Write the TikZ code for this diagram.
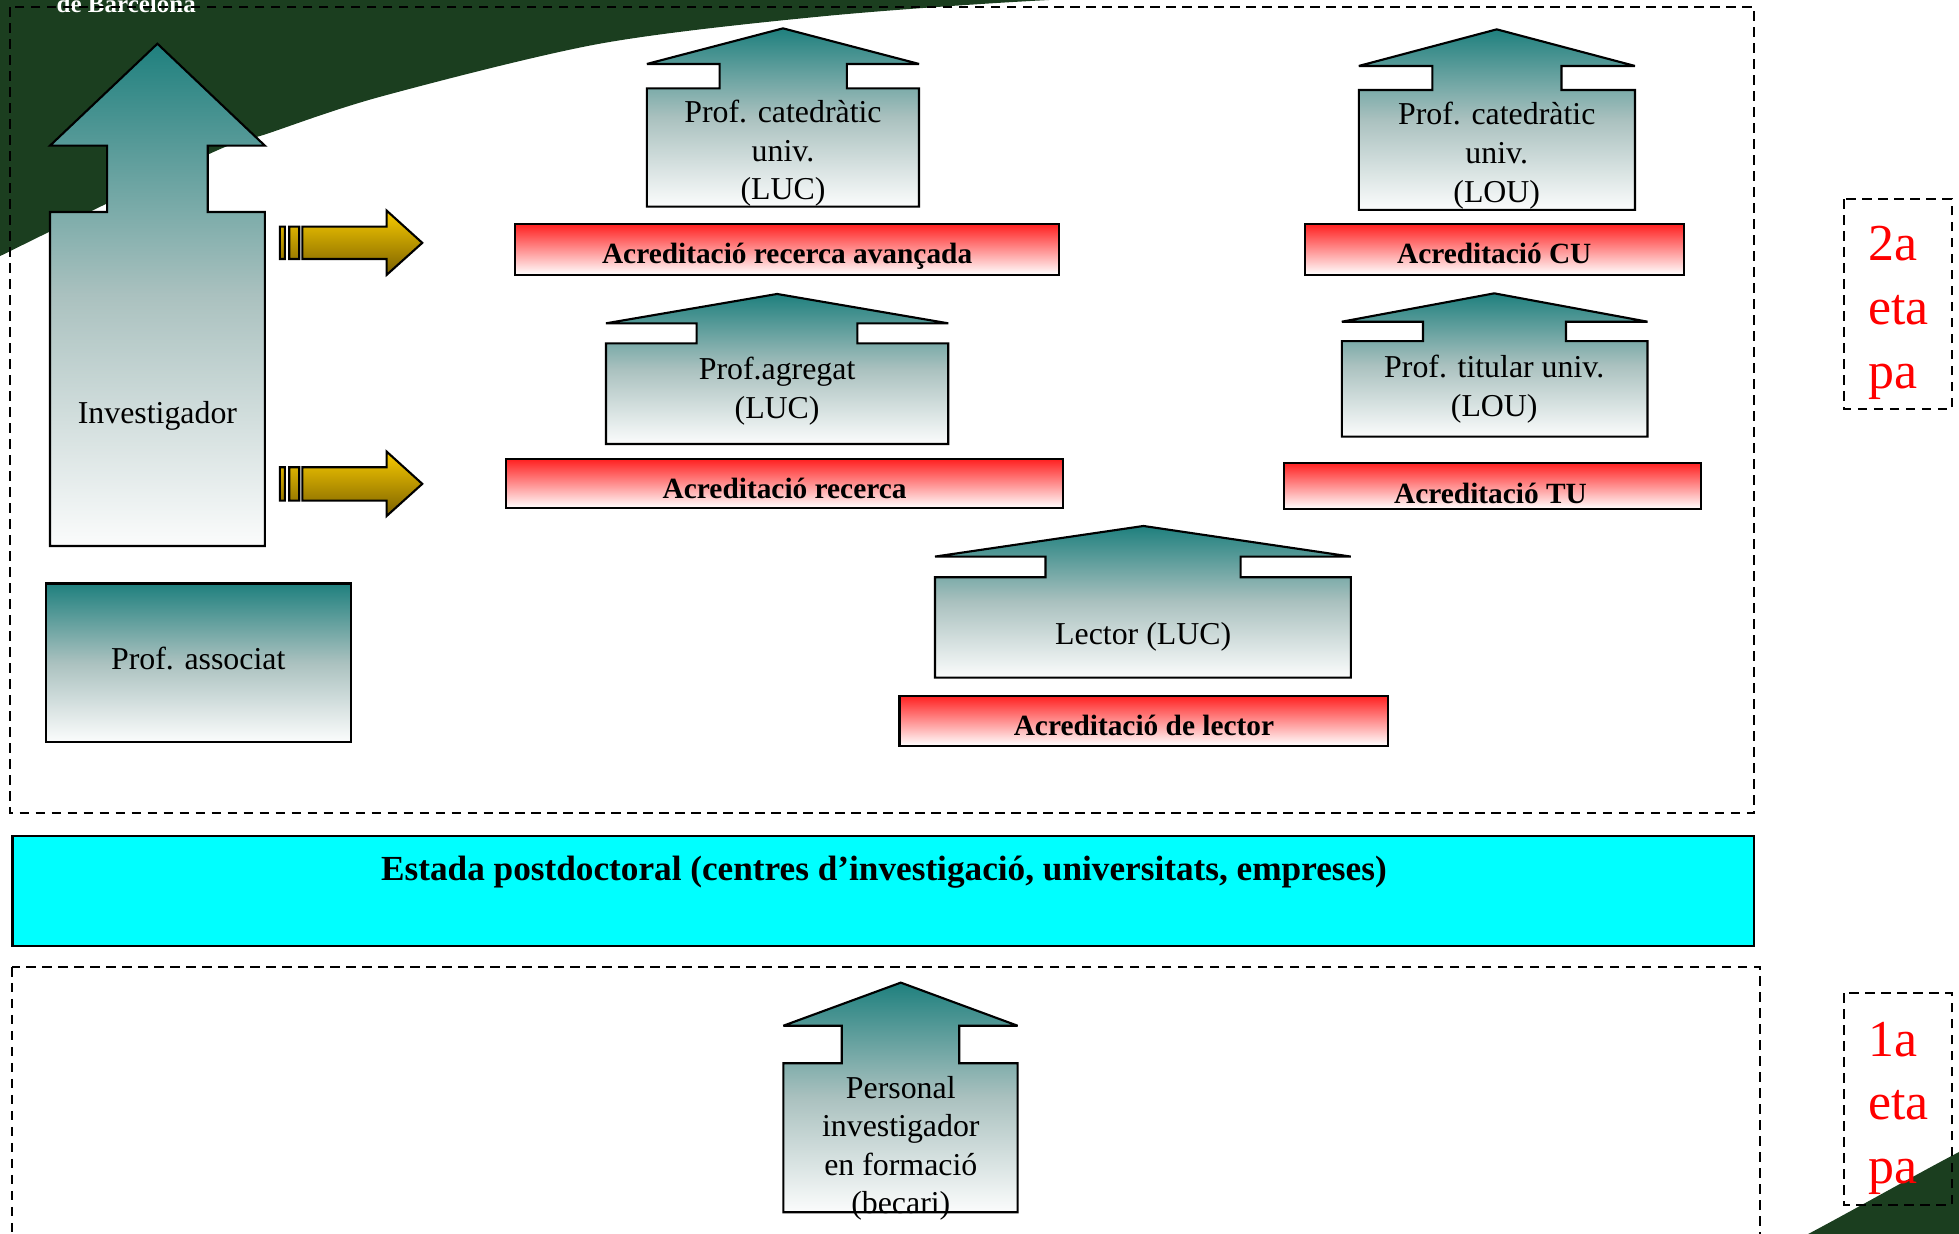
\documentclass[tikz,border=0pt]{standalone}
\usepackage{fontspec}
\setmainfont{Liberation Serif}
\definecolor{ubgreen}{RGB}{27,62,31}
\definecolor{tealtop}{RGB}{31,128,126}
\definecolor{tealmid}{RGB}{170,193,191}
\definecolor{tealbot}{RGB}{251,252,252}
\definecolor{redtop}{RGB}{255,32,32}
\definecolor{goldtop}{RGB}{250,204,0}
\definecolor{goldbot}{RGB}{122,96,0}
\definecolor{cyanfill}{RGB}{0,255,255}
\newcommand\blkarrow[9]{%
  \path[tealgrad] (#1,#2) -- (#5,#3) -- (#7,#3) -- (#7,#8) -- (#5,#8) -- (#5,#9) --
    (#4,#9) -- (#4,#8) -- (#6,#8) -- (#6,#3) -- (#4,#3) -- cycle;}
\begin{document}
\begin{tikzpicture}[x=0.5pt,y=-0.5pt,
  outl/.style={draw=black,line width=0.85pt,line join=miter,miter limit=3},
  tealgrad/.style={outl,top color=tealtop,bottom color=tealbot,middle color=tealmid},
  redbar/.style={outl,top color=redtop,bottom color=white},
  goldgrad/.style={outl,top color=goldtop,bottom color=goldbot},
  dashbox/.style={draw=black,line width=0.8pt,dash pattern=on 3.8pt off 2.6pt},
  txt/.style={inner sep=0pt,anchor=base,font=\fontsize{12.75}{15.5}\selectfont},
  btxt/.style={inner sep=0pt,anchor=base,font=\bfseries\fontsize{11.75}{14}\selectfont},
  etxt/.style={inner sep=0pt,anchor=base,font=\bfseries\fontsize{14.1}{17}\selectfont},
  rtxt/.style={inner sep=0pt,anchor=base west,text=red,font=\fontsize{20.75}{25}\selectfont}]
\useasboundingbox (0,0) rectangle (1568,987.7);
\begin{scope}
\clip (0,0) rectangle (1568,987.7);
% background decoration
\fill[ubgreen] (-2,-5) -- (-2,205) -- plot[smooth] coordinates {(0,205) (168,123) (214,107) (306,77) (480,35) (659,13) (840,0) (1000,-4)} -- (1000,-5) -- cycle;
\fill[ubgreen] (1443,990) .. controls (1490,965) and (1530,942) .. (1570,921) -- (1570,990) -- cycle;
\node[inner sep=0pt,anchor=base west,text=white,font=\bfseries\fontsize{10}{12}\selectfont] (logo) at (45,10) {de Barcelona};
% frames
\draw[dashbox] (8,6) rectangle (1404,651);
\draw[dashbox] (10,774) rectangle (1409,1010);
\draw[dashbox] (1476,159.5) rectangle (1562,327.7);
\draw[dashbox] (1476,795) rectangle (1562,964.5);
% Investigador
\blkarrow{126}{35}{116.6}{40}{212}{85.7}{166.3}{169.7}{437}
\node[txt] (inv) at (126,339) {Investigador};
% yellow arrows
\path[goldgrad] (224,181.4) rectangle (228,207.3) (231.5,181.4) rectangle (239.5,207.3)
  (242,181.4) -- (309.5,181.4) -- (309.5,168.6) -- (338,194.4) -- (309.5,220) -- (309.5,207.3) -- (242,207.3) -- cycle;
\path[goldgrad] (224,374) rectangle (228,400.7) (231.5,374) rectangle (239.5,400.7)
  (242,374) -- (309.5,374) -- (309.5,361.5) -- (338,387.3) -- (309.5,413) -- (309.5,400.7) -- (242,400.7) -- cycle;
% Prof. associat
\path[tealgrad] (36.8,467) rectangle (281,593.6);
\node[txt] (assoc) at (158.7,535.5) {Prof. associat};
% Prof. catedratic LUC
\blkarrow{626.7}{22.7}{51.2}{517.8}{735.6}{576}{677.8}{70.7}{165.4}
\node[txt] (catl1) at (626.7,98) {Prof. catedràtic};
\node[txt] (catl2) at (626.7,129) {univ.};
\node[txt] (catl3) at (626.7,160) {(LUC)};
% Prof. catedratic LOU
\blkarrow{1198}{23.5}{52.8}{1087.6}{1308.6}{1146.5}{1249.8}{72}{168}
\node[txt] (catu1) at (1198,100) {Prof. catedràtic};
\node[txt] (catu2) at (1198,131) {univ.};
\node[txt] (catu3) at (1198,162) {(LOU)};
% accreditation bars
\path[redbar] (412,179.3) rectangle (847.5,219.9);
\node[btxt] (acav) at (630,210.8) {Acreditació recerca avançada};
\path[redbar] (1044.6,179.3) rectangle (1347.7,219.8);
\node[btxt] (accu) at (1196,210.7) {Acreditació CU};
% Prof. agregat
\blkarrow{622}{235.3}{258.8}{485}{759}{557.6}{686.2}{274.8}{355.4}
\node[txt] (agr1) at (622,304) {Prof.agregat};
\node[txt] (agr2) at (622,335) {(LUC)};
% Prof. titular
\blkarrow{1196}{234.8}{257.5}{1074}{1318.7}{1139}{1253.4}{273}{349.5}
\node[txt] (tit1) at (1196,302) {Prof. titular univ.};
\node[txt] (tit2) at (1196,333) {(LOU)};
\path[redbar] (405,367.4) rectangle (851,406.9);
\node[btxt] (acre) at (628,399) {Acreditació recerca};
\path[redbar] (1028,370.3) rectangle (1361.5,407.4);
\node[btxt] (actu) at (1193,403) {Acreditació TU};
% Lector
\blkarrow{915.2}{421}{445.5}{748.4}{1081.2}{836.8}{993}{462}{542.4}
\node[txt] (lect) at (915,516) {Lector (LUC)};
\path[redbar] (720,556.8) rectangle (1111,596.8);
\node[btxt] (aclec) at (915.6,589) {Acreditació de lector};
% Estada postdoctoral
\path[outl,fill=cyanfill] (10,669) rectangle (1404,757);
\node[etxt] (estada) at (707.5,705) {Estada postdoctoral (centres d’investigació, universitats, empreses)};
% Personal investigador
\blkarrow{721}{786.5}{821}{627}{814.5}{673.7}{767.8}{851}{970.3}
\node[txt] (pif1) at (721,879) {Personal};
\node[txt] (pif2) at (721,910) {investigador};
\node[txt] (pif3) at (721,941) {en formació};
\node[txt] (pif4) at (721,971) {(becari)};
% stage labels
\node[rtxt] (e2a) at (1495,208.6) {2a};
\node[rtxt] (e2b) at (1495,259.5) {eta};
\node[rtxt] (e2c) at (1495,310.8) {pa};
\node[rtxt] (e1a) at (1495,845.7) {1a};
\node[rtxt] (e1b) at (1495,896) {eta};
\node[rtxt] (e1c) at (1495,947) {pa};
\end{scope}
\end{tikzpicture}
\end{document}
